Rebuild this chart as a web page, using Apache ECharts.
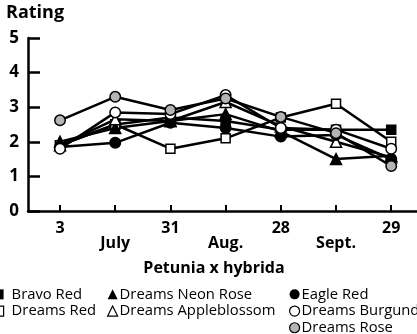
<!DOCTYPE html>
<html>
<head>
<meta charset="utf-8">
<script src="https://cdn.jsdelivr.net/npm/echarts@6/dist/echarts.min.js"></script>
<style>
  html, body { margin: 0; padding: 0; background: #fff; }
  #chart { width: 417px; height: 334px; }
</style>
</head>
<body>
<div id="chart"></div>
<script>
// Sampling dates: day labels on even positions, month names between them
const dayLabels = ['3', '31', '28', '29'];
const monthLabels = ['July', 'Aug.', 'Sept.'];

// Ratings per cultivar at the seven sampling points
const bravoRed          = [1.9, 2.5, 2.7, 2.6, 2.35, 2.35, 2.35];
const dreamsRed         = [1.9, 2.5, 1.8, 2.1, 2.7, 3.1, 2.0];
const dreamsNeonRose    = [2.0, 2.4, 2.6, 2.8, 2.3, 1.5, 1.6];
const dreamsAppleblossom= [1.9, 2.65, 2.6, 3.15, 2.45, 2.0, 1.55];
const eagleRed          = [1.85, 1.97, 2.55, 2.4, 2.15, 2.2, 1.5];
const dreamsBurgundy    = [1.8, 2.85, 2.8, 3.35, 2.4, 2.35, 1.8];
const dreamsRose        = [2.62, 3.3, 2.92, 3.25, 2.72, 2.25, 1.3];

const FONT = 'Open Sans';
const GRAY = '#b4b4b4';

const seriesDefs = [
  { name: 'Bravo Red',           data: bravoRed,           symbol: 'rect',     size: 9,  fill: '#000' },
  { name: 'Dreams Red',          data: dreamsRed,          symbol: 'rect',     size: 9,  fill: '#fff' },
  { name: 'Dreams Neon Rose',    data: dreamsNeonRose,     symbol: 'triangle', size: 11, fill: '#000' },
  { name: 'Dreams Appleblossom', data: dreamsAppleblossom, symbol: 'triangle', size: 11, fill: '#fff' },
  { name: 'Eagle Red',           data: eagleRed,           symbol: 'circle',   size: 10.5, fill: '#000' },
  { name: 'Dreams Burgundy',     data: dreamsBurgundy,     symbol: 'circle',   size: 10.5, fill: '#fff' },
  { name: 'Dreams Rose',         data: dreamsRose,         symbol: 'circle',   size: 10.5, fill: GRAY }
];

const series = seriesDefs.map(d => ({
  name: d.name,
  type: 'line',
  xAxisIndex: 0,
  data: d.data.map((v, i) => [i, v]),
  symbol: d.symbol,
  symbolSize: d.size,
  showAllSymbol: true,
  lineStyle: { color: '#000', width: 2.5 },
  itemStyle: { color: d.fill, borderColor: '#000', borderWidth: 1.5 },
  emphasis: { disabled: true },
  animation: false
}));

function legendItem(name) {
  const d = seriesDefs.find(s => s.name === name);
  return {
    name: name,
    icon: d.symbol,
    itemStyle: { color: d.fill, borderColor: '#000', borderWidth: d.fill === '#000' ? 0 : 1.2 }
  };
}

function legend(left, textShift, names) {
  return {
    left: left,
    top: 286,
    height: 80,
    orient: 'vertical',
    selectedMode: false,
    itemWidth: 10,
    itemHeight: 10,
    itemGap: 0,
    padding: 0,
    textStyle: { fontFamily: FONT, fontSize: 14.8, color: '#000', lineHeight: 16.7, padding: [0, 0, 0, textShift] },
    data: names.map(legendItem)
  };
}

const xMin = -0.58, xMax = 6.467;

const option = {
  backgroundColor: '#fff',
  animation: false,
  title: [
    { text: 'Rating', left: 6, top: 4, padding: 0,
      textStyle: { fontFamily: FONT, fontWeight: 'bold', fontSize: 18, color: '#000' } },
    { text: 'Petunia x hybrida', left: 214, top: 260, textAlign: 'center', padding: 0,
      textStyle: { fontFamily: FONT, fontWeight: 'bold', fontSize: 16, color: '#000' } }
  ],
  legend: [
    legend(-7, 3, ['Bravo Red', 'Dreams Red']),
    legend(107, -3, ['Dreams Neon Rose', 'Dreams Appleblossom']),
    legend(289, -3, ['Eagle Red', 'Dreams Burgundy', 'Dreams Rose'])
  ],
  grid: { left: 28, right: 0, top: 38, bottom: 123, containLabel: false },
  xAxis: [
    {
      type: 'value', min: xMin, max: xMax, position: 'bottom',
      axisLine: { show: true, onZero: false, lineStyle: { color: '#000', width: 2.5 } },
      axisTick: { show: true, inside: true, length: 6, lineStyle: { color: '#000', width: 2 },
                  customValues: [0, 1, 2, 3, 4, 5, 6] },
      axisLabel: { show: true, margin: 9, customValues: [0, 2, 4, 6],
                   fontFamily: FONT, fontWeight: 'bold', fontSize: 16, color: '#000',
                   formatter: v => dayLabels[Math.round(v) / 2] },
      splitLine: { show: false }
    },
    {
      type: 'value', min: xMin, max: xMax, position: 'bottom',
      axisLine: { show: false, onZero: false },
      axisTick: { show: false },
      axisLabel: { show: true, margin: 24, customValues: [1, 3, 5],
                   fontFamily: FONT, fontWeight: 'bold', fontSize: 16, color: '#000',
                   formatter: v => monthLabels[(Math.round(v) - 1) / 2] },
      splitLine: { show: false }
    }
  ],
  yAxis: {
    type: 'value', min: 0, max: 5, interval: 1,
    axisLine: { show: true, onZero: false, lineStyle: { color: '#000', width: 2.5 } },
    axisTick: { show: true, inside: true, length: 12, lineStyle: { color: '#000', width: 2.5 } },
    axisLabel: { margin: 9, fontFamily: FONT, fontWeight: 'bold', fontSize: 17, color: '#000' },
    splitLine: { show: false }
  },
  series: series
};

const chart = echarts.init(document.getElementById('chart'), null, { renderer: 'canvas' });
chart.setOption(option);
</script>
</body>
</html>
